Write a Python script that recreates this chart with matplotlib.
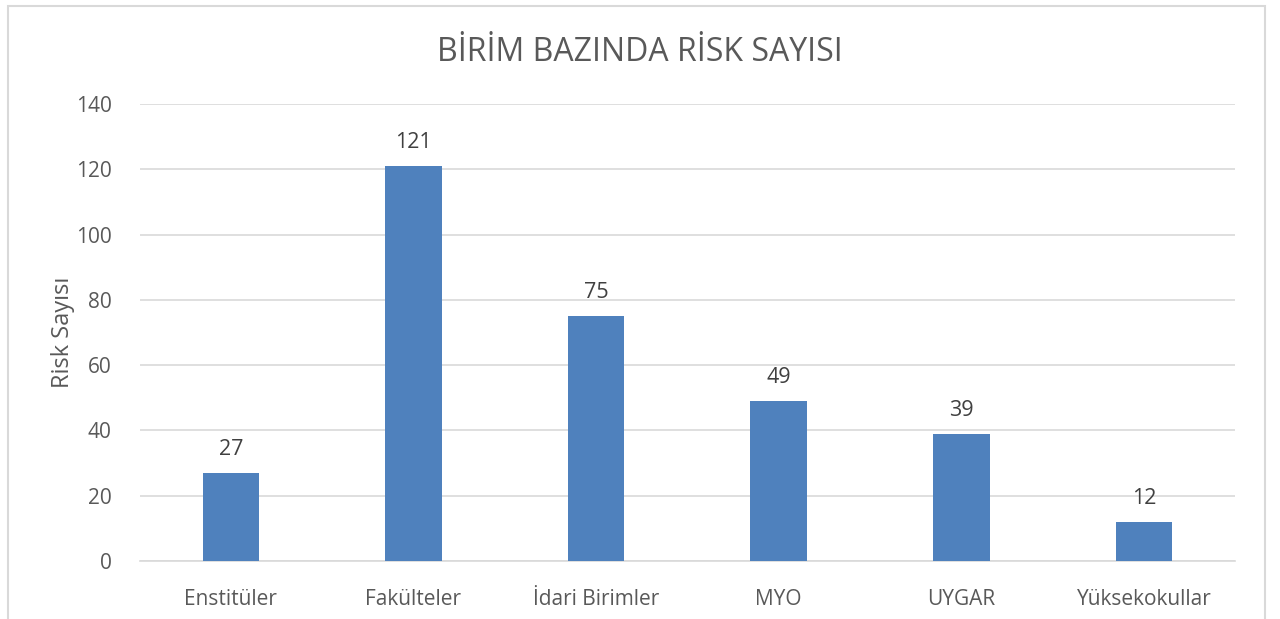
import matplotlib.pyplot as plt
from matplotlib.patches import Rectangle

categories = ['Enstitüler', 'Fakülteler', 'İdari Birimler', 'MYO', 'UYGAR', 'Yüksekokullar']
risk_counts = [27, 121, 75, 49, 39, 12]
y_ticks = [0, 20, 40, 60, 80, 100, 120, 140]

plt.rcParams['font.family'] = ['Open Sans', 'DejaVu Sans']
text_color = '#595959'

fig = plt.figure(figsize=(12.8, 6.19), dpi=100)
ax = fig.add_axes([0.109, 0.094, 0.856, 0.738])

# chart frame
fig.patches.append(Rectangle((8 / 1280, -0.1), 1257 / 1280, 1.1 - 6 / 619,
                             transform=fig.transFigure, fill=False,
                             edgecolor='#D9D9D9', linewidth=1.5))

x = range(len(categories))
bars = ax.bar(x, risk_counts, width=0.31, color='#4F81BD', zorder=3)

for b, v in zip(bars, risk_counts):
    ax.text(b.get_x() + b.get_width() / 2, v + 4, str(v), ha='center', va='bottom',
            fontsize=15.5, color='#404040')

ax.set_xlim(-0.5, len(categories) - 0.5)
ax.set_ylim(0, 140)
ax.set_yticks(y_ticks)
ax.set_xticks(list(x))
ax.set_xticklabels(categories)
ax.grid(axis='y', color='#D9D9D9', linewidth=1.2, zorder=0)
for s in ['top', 'right', 'left']:
    ax.spines[s].set_visible(False)
ax.spines['bottom'].set_color('#D9D9D9')
ax.spines['bottom'].set_linewidth(1.2)
ax.tick_params(axis='both', length=0, labelsize=15, colors=text_color)
ax.tick_params(axis='y', pad=20)
ax.tick_params(axis='x', pad=20)

ax.set_ylabel('Risk Sayısı', fontsize=17, color=text_color)
ax.yaxis.set_label_coords(-0.059, 0.5)
fig.text(0.5, 0.915, 'BİRİM BAZINDA RİSK SAYISI', ha='center', va='center',
         fontsize=23, color=text_color)

fig.savefig('out.png', dpi=100)
